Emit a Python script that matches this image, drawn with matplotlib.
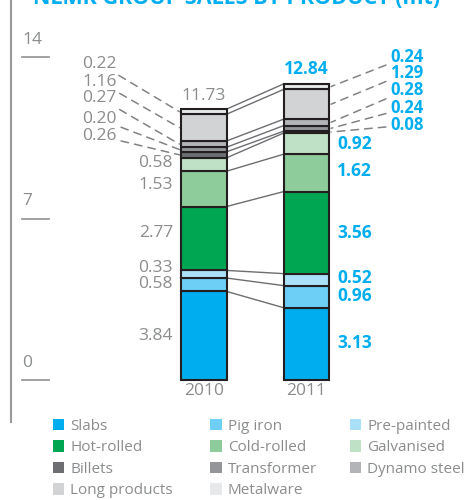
import matplotlib
matplotlib.use("Agg")
import matplotlib.pyplot as plt
import numpy as np
from matplotlib.patches import Patch

plt.rcParams['font.family'] = ['Open Sans', 'DejaVu Sans']

# data (mt)
years = ["2010", "2011"]
products = ["Slabs", "Pig iron", "Pre-painted", "Hot-rolled", "Cold-rolled", "Galvanised",
            "Billets", "Transformer", "Dynamo steel", "Long products", "Metalware"]
sales_2010 = [3.84, 0.58, 0.33, 2.77, 1.53, 0.58, 0.26, 0.20, 0.27, 1.16, 0.22]
sales_2011 = [3.13, 0.96, 0.52, 3.56, 1.62, 0.92, 0.08, 0.24, 0.28, 1.29, 0.24]
totals = [11.73, 12.84]
yticks = [0, 7, 14]

colors = ["#00aeef", "#6dcff6", "#abe1f8", "#00a651", "#8fcc9c", "#bfe1c5",
          "#6d6e71", "#939598", "#b3b4b7", "#d2d3d5", "#e7e8e9"]
cyan = "#00aeef"
grey = "#8a8c8e"
edge = "#231f20"

fig = plt.figure(figsize=(4.7, 5.0), dpi=100)
ax = fig.add_axes([0, 0, 1, 1])
ax.set_xlim(-1.99, 2.595)
ax.set_ylim(-5.2, 16.47)
ax.axis('off')

w = 0.44
x = np.arange(len(years))
data = np.array([sales_2010, sales_2011])
bottoms = np.zeros(2)
for i, p in enumerate(products):
    ax.bar(x, data[:, i], w, bottom=bottoms, color=colors[i], edgecolor=edge,
           linewidth=1.5, zorder=3)
    bottoms += data[:, i]

cum10 = np.cumsum(sales_2010)
cum11 = np.cumsum(sales_2011)
mid10 = cum10 - np.array(sales_2010) / 2
mid11 = cum11 - np.array(sales_2011) / 2

# connector lines between bars
for a, b in zip(cum10, cum11):
    ax.plot([x[0] + w / 2, x[1] - w / 2], [a, b], color="#6d6e71", lw=1, zorder=2)

# axis
ax.plot([-1.883, -1.883], [-1.8, 16.5], color="#9a9a9a", lw=1.5, clip_on=False)
for t in yticks:
    ax.plot([-1.776, -1.512], [t, t], color="#9a9a9a", lw=1.3)
    ax.text(-1.776, t + 0.4, str(t), color=grey, fontsize=12.5, ha='left', va='bottom')

# 2010 labels (left, grey)
big10 = [0, 1, 2, 3, 4, 5]
shift10 = [0, 0.05, 0.25, 0.25, 0.15, 0.05]
for i, s in zip(big10, shift10):
    ax.text(-0.302, mid10[i] + s, f"{sales_2010[i]:.2f}", color=grey, fontsize=12.5,
            ha='right', va='center')
callout_y_2010 = [10.58, 11.31, 12.22, 12.92, 13.70]
for i, yy in zip(range(6, 11), callout_y_2010):
    ax.annotate(f"{sales_2010[i]:.2f}", xy=(x[0] - w / 2 - 0.02, mid10[i]), xytext=(-0.849, yy),
                color=grey, fontsize=12.5, ha='right', va='center',
                arrowprops=dict(arrowstyle='-', color="#808285", lw=1.1, linestyle=(0, (5, 4)),
                                shrinkA=1, shrinkB=0))

# 2011 labels (right, cyan bold)
shift11 = [0.05, 0.05, 0.05, 0.0, 0.08, 0.0]
for i, s in zip(big10, shift11):
    ax.text(1.298, mid11[i] + s, f"{sales_2011[i]:.2f}", color=cyan, fontsize=12.5,
            fontweight='bold', ha='left', va='center')
callout_y_2011 = [11.05, 11.79, 12.57, 13.31, 14.0]
for i, yy in zip(range(6, 11), callout_y_2011):
    ax.annotate(f"{sales_2011[i]:.2f}", xy=(x[1] + w / 2 + 0.02, mid11[i]), xytext=(1.815, yy),
                color=cyan, fontsize=12, fontweight='bold', ha='left', va='center',
                arrowprops=dict(arrowstyle='-', color="#808285", lw=1.1, linestyle=(0, (5, 4)),
                                shrinkA=1, shrinkB=0))

# totals
ax.text(x[0], totals[0] + 0.25, f"{totals[0]:.2f}", color=grey, fontsize=12.5,
        ha='center', va='bottom')
ax.text(x[1], totals[1] + 0.25, f"{totals[1]:.2f}", color=cyan, fontsize=12.5,
        fontweight='bold', ha='center', va='bottom')

# year labels
for xi, yr in zip(x, years):
    ax.text(xi, -0.15, yr, color=grey, fontsize=12.5, ha='center', va='top')

# title (cropped at top in the original)
fig.text(0.07, 0.991, "NLMK GROUP SALES BY PRODUCT (mt)", color=cyan, fontsize=15.5,
         fontweight='bold', ha='left', va='baseline')

# legend, three columns
cols = [[0, 3, 6, 9], [1, 4, 7, 10], [2, 5, 8]]
col_x = [0.112, 0.447, 0.744]
for cx, idx in zip(col_x, cols):
    handles = [Patch(facecolor=colors[i], edgecolor='none') for i in idx]
    leg = fig.legend(handles, [products[i] for i in idx], loc='upper left',
                     bbox_to_anchor=(cx, 0.162), frameon=False, fontsize=11,
                     handlelength=0.75, handleheight=0.75, handletextpad=0.4,
                     labelspacing=0.42, borderpad=0, borderaxespad=0)
    for t in leg.get_texts():
        t.set_color(grey)

fig.savefig("out.png", dpi=100)
